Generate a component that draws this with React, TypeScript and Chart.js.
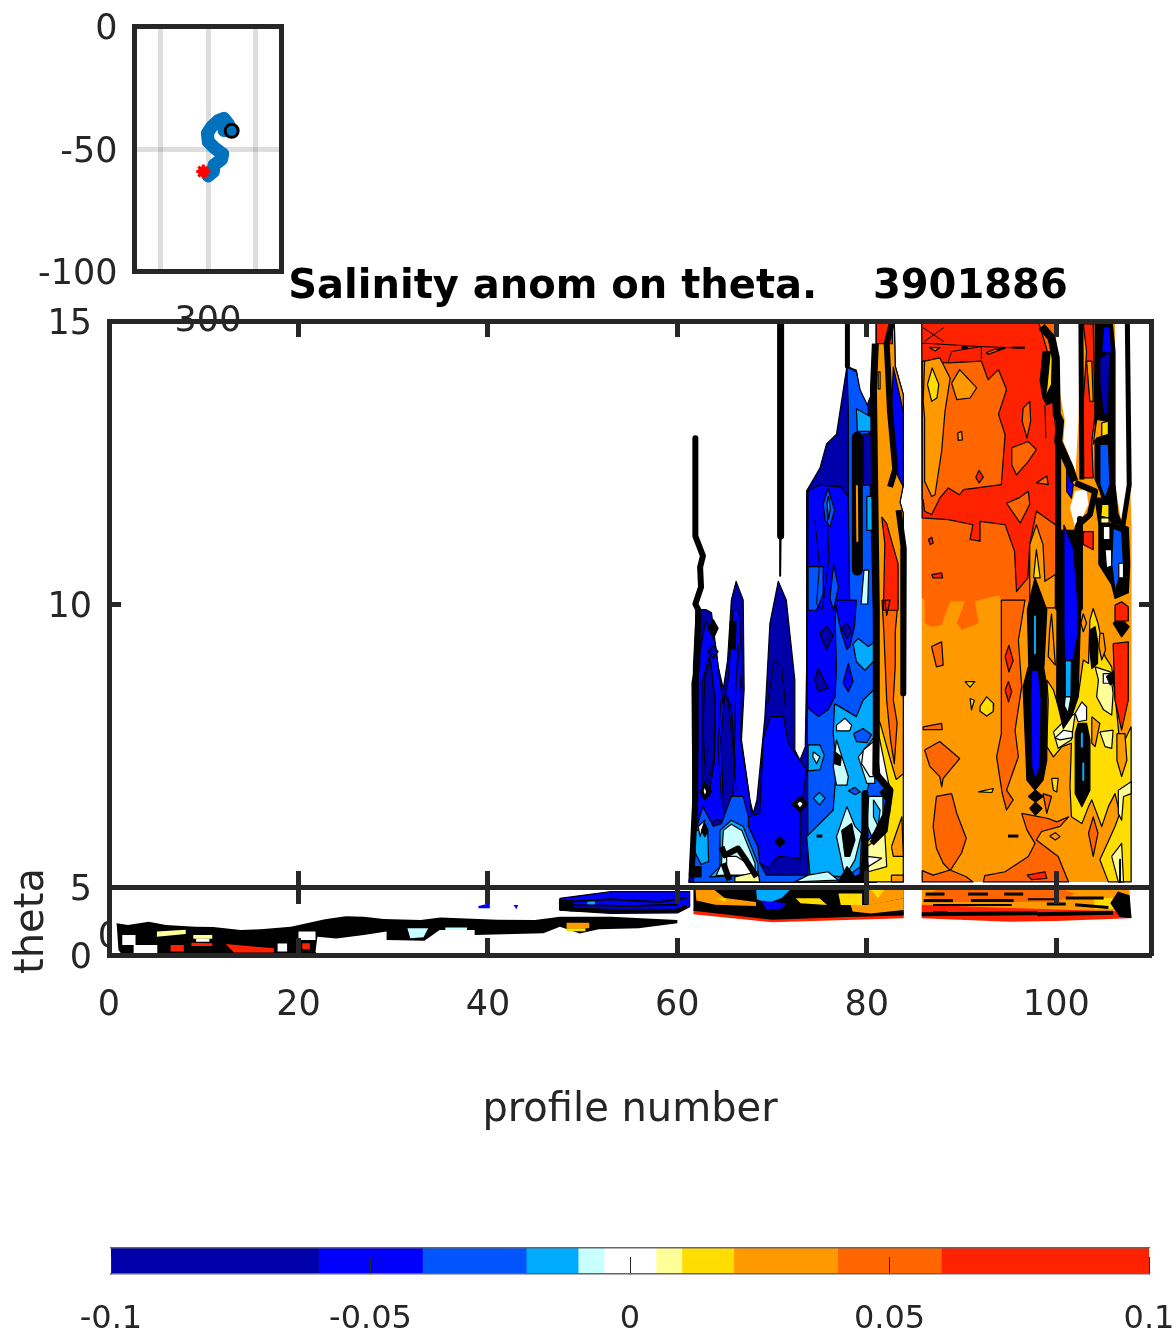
import React, { useEffect, useRef } from "react";
import { Chart, registerables } from "chart.js";
Chart.register(...registerables);

// ---- tick values
const profileTicks = [0, 20, 40, 60, 80, 100];
const thetaUpperTicks = [10, 15];
const thetaLowerTicks = [0, 5];
const mapLonGrid = [250, 300, 350];
const mapLatTicks = [-100, -50, 0];
const cbarTicks = [-0.1, -0.05, 0, 0.05, 0.1];
const cbarLevels = [-0.1, -0.06, -0.04, -0.02, -0.01, -0.005, 0.005, 0.01, 0.02, 0.04, 0.06, 0.1];

// ---- contour level colours
const dk = "#0000AA", bl = "#0000FF", md = "#0055FF", cy = "#00AAFF", pc = "#C8FFFF", wh = "#FFFFFF",
  py = "#FFFF99", ye = "#FFDD00", or = "#FF9900", dr = "#FF6600", rd = "#FF2200", bk = "#000000";
const cbarColors = [dk, bl, md, cy, pc, wh, py, ye, or, dr, rd];

// ---- float track (lon, lat)
const trackLon = [300.3, 305.6, 306.3, 314.2, 315.3, 307.3, 300.3, 299.3, 303.8, 310.8, 316.7, 321.2, 316.7, 324.7];
const trackLat = [-61, -59.2, -56.5, -54.2, -52, -49.7, -47, -43.6, -40.9, -38.4, -37.5, -39.8, -42.5, -42.6];
const firstFix = [295.1, -59.2];
const lastFix = [324.7, -42.6];

// ---- contour regions, flat (profile, theta) pairs
const leftHull = [61.2,5.08, 61.6,5.9, 61.7,8.9, 62,9.9, 63,9.9, 63.6,9.85, 64.3,8.9, 64.85,8.5, 65.3,9, 65.7,10.07, 66.2,10.4, 66.95,10.07, 67.05,8.5, 66.77,7.6, 67.66,6.54, 68,6.3, 68.4,6.54, 69.24,8, 69.77,9.66, 70.65,10.4, 71.5,10.07, 72.4,8.66, 72.4,7.42, 72.94,7.24, 73.5,7.48, 73.65,8.9, 73.65,12, 75.05,12.4, 75.75,12.83, 76.8,13, 77.9,14.2, 78.9,14.13, 79.3,13.7, 80,13.5, 80.7,13.8, 81,14.6, 81,5.08];
const midBlueEast = [77.9,14.19, 78.9,14.1, 79.3,13.78, 80.15,13.48, 80.7,9.89, 80.86,7.71, 81.4,6.95, 82.45,6.71, 81.75,6.12, 79.3,5.36, 79.3,5.08, 73.8,5.08, 73.7,8.9, 73.8,12, 78.05,11.9, 78.05,13.4];
const blueEast = [73.8,12, 75,12.1, 77.2,12.07, 78.05,11.9, 78.2,9.9, 76.8,10.07, 76.65,9.72, 76.8,8.89, 76.65,8.36, 75.9,8.13, 74.9,8.01, 74,8.13, 73.7,8.2];
const blueNorth = [76.6,10.07, 78.9,10.07, 78.7,9.6, 78.2,9.25, 77.9,9.2, 77.3,9.5];
const blueWest = [62,5.8, 62.2,7.5, 62.2,9, 63,9.7, 64,9.3, 64.85,8.2, 65.4,8.7, 65.9,9.9, 66.5,9.9, 66.8,9, 66.7,7.6, 67.6,6.6, 67.9,6.2, 67,6, 64.2,6.2, 62.8,6];
const darkWest1 = [62.5,6.8, 62.6,8.6, 63.4,9.1, 64,8.2, 63.9,7.2, 63.3,6.6];
const darkWest2 = [64.9,6.3, 64.6,7.6, 65,8.4, 65.7,8.2, 66.1,7.2, 65.7,6.3];
const bodyBlue = [69.05,7.6, 69.8,8.01, 71.2,8.01, 71.7,7.54, 73.65,7.07, 72.95,6.24, 72.95,5.5, 70.65,5.54, 69.6,5.33, 68.7,5.42, 68.5,5.71, 67.5,6.07, 67.4,6.24, 68.7,6.3, 68.9,7];
const midBlueWest = [62.7,6.42, 63.8,6.07, 64.66,6.12, 65.7,6.6, 66.95,6.6, 67.5,6.24, 67.5,6.07, 68.5,5.71, 68.7,5.42, 69.4,5.21, 73.65,5.21, 73.8,5.08, 61.7,5.08, 61.85,5.6, 61.85,5.95];
const cyanMain = [76.6,8.24, 78.9,8.01, 79.6,8.3, 80.7,8.48, 81,7.71, 80.7,7.13, 79.6,6.42, 79.3,5.36, 77.9,5.18, 74,5.21, 73.65,5.89, 76.45,6.36, 76.8,7.13, 76.45,7.71];
const cyanLobe = [78.55,9.3, 79.1,9.39, 80.15,9.25, 80.85,9.33, 80.85,9.01, 79.8,8.83, 78.9,8.98];
const dark1 = [75.05,9.48, 75.75,9.6, 76.45,9.45, 75.75,9.19];
const dark2 = [77.35,9.57, 77.9,9.66, 78.4,9.51, 77.9,9.39];
const dark3 = [74.5,8.66, 74.85,8.86, 75.9,8.51, 74.85,8.45];
const blueDrop = [77.5,8.6, 78.05,8.95, 78.55,8.63, 78.05,8.45];
const midOnCyan = [78.6,7.71, 79.6,7.8, 80.5,7.69, 80,7.55, 78.9,7.57];
const cyanSquare = [73.8,7.51, 75.05,7.51, 75.5,7.33, 75.05,7.07, 73.8,7.05];
const paleDot = [74.35,7.39, 75.05,7.3, 74.7,7.18, 74.3,7.3];
const whiteBox = [76.8,7.86, 77.7,7.98, 78.4,7.86, 78.2,7.76, 76.8,7.76];
const paleColumn = [76.8,7.6, 78.05,6.95, 77.9,6.8, 76.8,6.8, 76.45,7.13];
const blackCore = [76.55,7.4, 77.3,7.3, 77.2,7.15, 76.6,7.18];
const cyanDiamond = [74.35,6.57, 75,6.67, 75.6,6.57, 75,6.45];
const midDiamond = [78.05,6.7, 78.75,6.76, 79.3,6.68, 78.75,6.63];
const whiteLarge = [79.1,7.3, 80.7,7.63, 80.85,6.83, 80,6.83];
const whiteInner = [79.63,7.42, 80.7,7.57, 80.7,6.95, 80.3,6.95, 79.45,7.18];
const cyanSW = [61.85,6, 63.2,6, 63.3,5.45, 62.5,5.4, 61.9,5.6];
const cyanSouth = [64.5,6, 65.7,6.18, 66.95,6.07, 68.5,5.42, 68.5,5.21, 63.4,5.18, 64.5,5.36];
const paleSouth = [64.85,6, 65.7,6.11, 66.8,6, 68.2,5.42, 68.2,5.24, 64.1,5.2, 64.66,5.42];
const whiteSouth = [65.2,5.54, 66.25,5.54, 67.65,5.39, 68,5.21, 65.2,5.21];
const yellowSouth = [66.07,5.18, 68.5,5.27, 68.7,5.09, 66.07,5.09];
const blackRing1 = [72.06,6.47, 72.94,6.59, 73.75,6.47, 72.94,6.33];
const whiteRing1 = [72.6,6.47, 72.94,6.53, 73.3,6.47, 72.94,6.39];
const blackDot1 = [70.3,5.8, 70.8,5.89, 71.35,5.8, 70.8,5.71];
const blackDot2 = [62.4,6.68, 62.9,6.86, 63.6,6.68, 62.9,6.54];
const whiteDot2 = [62.7,6.7, 62.9,6.78, 63.1,6.68, 62.9,6.6];
const blackDot3 = [63.25,9.57, 63.8,9.72, 64.3,9.57, 63.8,9.39];
const darkDot4 = [63.25,9.16, 63.8,9.27, 64.3,9.16, 63.8,9.04];
const blackFoot = [61.3,5.36, 62.5,5.36, 62.5,5.18, 61.3,5.18];
const whiteNick = [62.2,6.07, 62.9,6.18, 62.4,5.89];
const blackNick = [62.55,6, 62.9,6.12, 63.25,6, 62.9,5.89];
const paleDiamond = [77.9,6.42, 78.75,6.07, 79.45,5.95, 78.75,5.48, 77.7,5.18, 76.8,5.89];
const blackDiamond = [77.35,6, 78.4,6.12, 78.75,5.83, 78.2,5.54, 77.7,5.54];
const blackFeet = [77,5.09, 77.9,5.36, 78.75,5.18, 79.45,5.24, 79.63,5.09];
const paleFoot = [72.4,5.09, 73.8,5.21, 75.9,5.27, 77,5.12];
const paleLoop = [80.2,6.6, 81.7,6.6, 81.7,6.15, 80.5,5.9, 80,6.1];
const cyanLoop = [80.7,6.54, 81.4,6.36, 81.2,6.07, 80.7,6.24];
const midDrop = [75.4,11.77, 75.9,12.04, 76.6,11.66, 76.1,11.36, 75.6,11.48];
const cyanDrop = [75.8,11.8, 75.95,11.9, 76.15,11.68, 75.95,11.5];
const midSlab1 = [73.8,10.66, 75.4,10.66, 75.4,10.18, 74.7,9.89, 73.8,9.89];
const midSlab2 = [76.5,10.7, 77,10.3, 76.5,9.89, 76.1,10.1];
const cyanX = [78.9,13.45, 80.5,13.3, 80.5,13.05, 79,13.05];
const darkX = [79.6,13, 80.7,13, 80.7,12.1, 79.6,12.1];
const paleTall = [79.7,10.6, 80.2,10.6, 80.1,10, 79.4,10];
const cyanTall = [80,11.9, 80.7,11.9, 80.7,11.3, 80,11.3];

const columnBase = [81,15, 82.9,15, 83,14.2, 83.85,13.7, 83.85,12.1, 83.5,11.8, 83.85,11.6, 83.85,5.09, 80,5.09, 80,5.8, 81.8,6.1, 82.45,6.71, 81,7.9];
const columnOrange = [81,15, 82.9,15, 83,14.2, 83.85,13.7, 83.85,12.1, 83.5,11.8, 83.85,11.6, 83.85,7, 83.1,6.9, 82.45,7.27, 81.4,7.9, 81,8];
const columnDark = [81.6,10.07, 83.3,10.07, 83,9.5, 83,8.9, 82.8,8.3, 83.2,7.9, 82.9,7.18, 82.5,7.6, 82.1,8.3, 81.8,9.5];
const columnRedTop = [81,15, 82.7,15, 82.7,14.6, 81,14.6];
const columnRedMid = [81.57,11.54, 82.1,11.42, 83.3,10.71, 83.3,9.89, 81.75,9.89, 81.9,11.07];
const columnRedTip = [81.9,10.07, 82.45,10.07, 82.1,9.8];
const columnBlue = [82.8,14.19, 83.5,13.66, 83.85,13.4, 83.85,12.07, 83.3,12.25, 82.8,12.83, 82.6,13.4];
const columnYellow = [81.2,14.1, 81.4,14.1, 81.4,13.8, 81.2,13.8];
const paleFloor = [80,5.71, 81.9,5.95, 82.1,5.36, 80.15,5.27];
const whiteFloor = [80,5.54, 81.57,5.51, 80.15,5.36];
const orangeFloor1 = [82.6,5.71, 83.7,6.24, 83.85,5.54, 82.8,5.54];
const orangeFloor2 = [82.6,5.21, 83.85,5.21, 83.85,5.09, 82.6,5.09];

const rightHull = [85.8,5.09, 85.8,15, 99.9,15, 100.2,13.9, 100.9,13.25, 100.75,12.87, 101.45,12.58, 102,12.2, 102.35,13.3, 102.5,14.5, 102.5,15, 106.2,15, 106.2,12.1, 106.9,11.43, 107.5,12.1, 107.4,15, 107.75,15, 107.8,12.1, 107.95,11.4, 107.95,5.09];
const darkUpper = [85.8,15, 99.9,15, 99.9,10, 97.2,10, 96.7,10.07, 94.2,10, 94,10.16, 91.4,10.05, 91.8,9.66, 90,9.54, 89.5,9.66, 90.35,10.05, 88.8,10.05, 87.9,9.63, 86.85,9.6, 86.1,9.66, 86.1,10.07, 85.8,10.1];
const redUpper = [85.8,15, 98.1,15, 99,14.5, 99.4,14, 100,13, 100.3,11.4, 99.9,11.4, 97.9,11.64, 97.2,11.05, 97,10.46, 95.8,10.22, 95.6,10.93, 94.6,11.4, 91.95,11.46, 91.95,11.11, 90.9,11.14, 91.2,11.4, 88.6,11.49, 85.85,11.52];
const darkBlock = [85.85,14.29, 88.6,14.26, 92.1,14.29, 92.8,13.96, 93.9,14.14, 94.75,13.79, 93.9,13.35, 94.6,12.99, 94.2,12.11, 90.2,12.02, 89.8,11.93, 88.6,12.05, 87.7,11.87, 86.85,11.58, 86.1,11.64, 85.95,11.84, 85.85,11.84];
const darkPatch1 = [95.3,12.76, 97.05,12.87, 97.9,12.73, 97.05,12.52, 95.8,12.28, 95.3,12.46];
const darkPatch2 = [96.5,13.46, 97.2,13.58, 97.3,13.23, 96.9,12.93, 96.4,13.23];
const darkPatch3 = [94.75,11.78, 96,11.87, 97.05,11.99, 97.2,11.76, 96.2,11.43];
const darkTri = [97.9,12.14, 99,12.26, 99.15,12.11];
const darkTop = [92.6,14.44, 93.5,14.5, 94.6,14.52, 92.8,14.41];
const orangeTop = [86.6,14.53, 87.7,14.53, 87.2,14.47];
const lobe1 = [85.95,13.58, 86.1,14.29, 87.7,14.35, 88.8,13.99, 88.25,13.4, 87.9,12.7, 87.2,11.93, 86.85,11.9, 86.1,12.17, 86.1,13.29];
const lobe1Yellow = [86.4,13.88, 86.9,14.17, 87.6,13.88, 87.4,13.64, 86.85,13.58];
const lobe2 = [88.95,13.9, 89.8,14.14, 91.6,13.82, 90.9,13.64, 89.5,13.61];
const lobe3 = [89.6,13.02, 90,13.05, 90.1,12.9, 89.65,12.89];
const redDia1 = [91.5,12.24, 91.85,12.36, 92.3,12.24, 91.85,12.14];
const redDia2 = [86.5,11.14, 86.85,11.18, 87,11.08, 86.7,11.05];
const redDia3 = [86.85,10.52, 87.9,10.55, 88,10.46, 87,10.46];
const lobe4 = [97.2,9.93, 97.2,11.05, 97.9,11.4, 98.6,11.05, 98.8,10.4, 99.9,10.52, 99.9,9.93];
const lobe4Yellow = [97.6,10.46, 97.9,10.96, 98.3,10.46];
const patchA = [86.83,9.25, 87.9,9.33, 88.06,8.92, 87.35,8.89];
const patchB = [85.95,7.83, 87.9,7.89, 87.96,7.78, 85.95,7.78];
const patchC = [86.1,7.42, 87.7,7.57, 89.8,7.27, 88.06,6.92, 87.9,6.77, 87.7,6.95, 86.65,7.13];
const patchBig = [87.35,6.6, 88.95,6.65, 89.5,6.3, 90.5,5.86, 90,5.6, 88.8,5.29, 88.06,5.42, 87.35,5.68, 87,6.07];
const patchFloor = [85.85,5.29, 87,5.21, 88.8,5.3, 90.5,5.18, 91.2,5.09, 85.85,5.09];
const darkColumn = [94.2,10.07, 96.7,10.07, 96,9.36, 96.35,8.54, 95.65,7.77, 96,7.3, 94.75,6.71, 95.45,6.54, 94.75,6.36, 94.3,6.65, 93.7,7.3, 94.2,7.71, 94.2,9.19];
const darkLower = [96.35,6.3, 99.15,6.21, 100.05,6.15, 101.3,6.24, 100.4,6.07, 98.45,5.98, 97.9,5.83, 100.2,5.54, 101.3,5.09, 92.3,5.09, 92.45,5.2, 94.6,5.27, 97.05,5.54, 97.75,5.77, 96.9,6.01];
const orangeDot = [99.3,5.9, 99.9,5.96, 100.4,5.89, 99.9,5.83];
const redFloor = [96.9,5.21, 98.8,5.27, 99,5.15, 97.4,5.13];
const yellowA = [90.35,8.63, 91.4,8.63, 90.9,8.53];
const yellowB = [91.95,8.19, 92.65,8.36, 93.4,8.24, 93.35,8.1, 92.65,8.02, 92,8.1];
const yellowC = [90.9,8.33, 91.35,8.3, 91.05,8.13];
const yellowD = [91.75,6.68, 93.35,6.74, 93.2,6.67];
const yellowE = [99.5,6.92, 100.2,6.92, 100.05,6.68, 99.7,6.71];
const darkShard = [98.6,6.65, 99.5,6.6, 99,6.3];
const redCol1 = [94.6,9.07, 95,9.27, 95.45,9, 95,8.8];
const redCol2 = [94.6,8.48, 94.95,8.63, 95.3,8.45, 94.95,8.27];
const yellowEast = [99,8.66, 99.15,8.3, 99,7.48, 99.7,7.3, 100.6,7.48, 101.6,7.54, 101.45,6.77, 101.6,6.24, 102.7,6.12, 103.4,6.42, 103.75,6.54, 104.8,6.07, 105.5,6.42, 106.2,6.65, 106.7,6.3, 106.2,6.07, 105.15,5.68, 104.6,5.48, 105.5,5.09, 107.9,5.09, 107.9,7.83, 107.25,7.6, 106.6,7.71, 106.4,8.07, 105.85,8.89, 105.15,9.07, 104.4,9.66, 103.9,9.92, 103.55,9.72, 103.4,8.95, 102.85,9.01, 102.3,8.36, 101.6,8.01, 100.9,7.83, 100.2,8.2, 99.7,8.48];
const orangeE1 = [106.4,7.71, 107.25,7.71, 107.45,7.24, 106.9,6.95, 106.4,7.24];
const orangeE2 = [103.75,8.01, 104.6,7.89, 104.1,7.48, 103.75,7.54];
const orangeE3 = [103.4,5.95, 103.9,6.24, 104.4,5.95, 103.9,5.54];
const orangeE4 = [104.6,9.48, 104.96,9.48, 105.2,9.19, 104.8,9.01, 104.5,9.25];
const orangeE5 = [99.5,9.83, 99.9,8.92, 99.15,9.07, 99.3,9.54];
const orangeE6 = [102.85,9.83, 103.2,9.66, 102.85,9.51, 102.6,9.66];
const paleE1 = [104.1,8.89, 105.7,8.8, 106,8.42, 105.85,8.04, 105,8.13, 104.26,8.36, 104.45,8.66];
const paleE2 = [104.6,7.74, 106,7.77, 105.85,7.45, 105.15,7.48];
const paleE3 = [106.55,6.71, 107.9,6.86, 107.9,6.65, 107.1,6.6, 106.9,6.18, 106.55,6.3];
const paleE4 = [99.7,7.74, 100.75,7.92, 102,8.07, 101.6,7.6, 100.2,7.45];
const paleE5 = [105.85,5.54, 106.9,5.77, 107.1,5.09, 106.55,5.09];
const whiteE1 = [99.85,7.63, 100.75,7.77, 101.7,7.74, 101.7,7.64, 100.4,7.6];
const whiteE2 = [102,8.07, 102.7,8.27, 103.2,8.18, 103.2,7.95, 102.3,7.92];
const whiteE3 = [104.96,8.77, 105.7,8.77, 105.85,8.6, 104.96,8.6];
const blackA = [97.75,10.46, 99,9.9, 98.7,8.9, 97.1,8.9, 96.95,9.9];
const blackB = [97.05,8.89, 98.6,8.95, 99,8.54, 99,7.24, 98.6,6.89, 97.75,6.71, 96.9,6.89, 96.5,8.54];
const blueB = [97.4,8.83, 98.1,8.83, 98.4,8.3, 98.3,7.13, 97.75,6.89, 97.4,7.13, 97.3,8.3];
const blackB1 = [97.05,6.6, 97.8,6.71, 98.6,6.6, 97.8,6.5];
const blackB2 = [97.2,6.39, 97.8,6.5, 98.5,6.39, 97.8,6.27];
const blackC = [100.1,11.3, 100.05,8.3, 100.75,7.8, 101.6,8.01, 102.3,8.36, 102.6,10, 102.4,11.3];
const blueC = [100.8,11.4, 101.8,11, 102.3,10, 102.3,9.48, 101.7,8.95, 100.95,8.9, 100.8,9.5];
const cyanC = [100.95,9, 101.6,9, 101.55,8.36, 100.95,8.36];
const paleC = [100.95,8.36, 101.55,8.36, 101.25,8.07, 100.85,8.2];
const blackD = [102,7.71, 102.3,7.89, 103.2,7.89, 103.55,7.6, 103.55,6.71, 102.7,6.42, 102,6.65];
const blackE = [103.55,9.54, 104.1,9.6, 104.4,9.3, 104.35,8.95, 103.75,8.86, 103.55,9.18];
const blackF = [105.3,8.72, 106.2,8.83, 106.4,8.66, 105.7,8.57];
const redEdge = [106,9.3, 107.6,9.33, 107.6,8.3, 106.9,7.77, 106.2,8.3];
const blackEdge = [106,9.66, 106.8,9.75, 107.7,9.6, 106.9,9.42];
const redEdgeTop = [106.2,9.98, 106.9,10.04, 107.6,9.95, 107.6,9.7, 106.2,9.7];
const redCol = [102.85,14.95, 103.9,14.95, 104.1,13.35, 103.75,12.87, 103.9,12.23, 102.85,12.23, 102.85,13.58, 103.2,14.46];
const orangeCol = [103.2,14.29, 103.75,14.29, 103.9,13.58, 103.55,13.58];
const blackCol = [104.1,15, 105.9,15, 106.2,14.46, 106.2,12.11, 106.5,11.6, 106.9,11.43, 105.9,11.4, 105.15,11.7, 104.6,12, 104.1,12.2];
const orangeNotch = [103.9,12.82, 104.26,13.26, 105.5,13.23, 105.5,13, 104.26,12.93];
const yellowNotch = [104.8,13.2, 105.5,13.23, 105.5,13, 104.8,12.96];
const blueTop = [105,14.9, 105.67,14.9, 105.85,14.4, 104.8,14.46];
const darkMid = [104.6,14.35, 105.67,14.45, 105.5,13.35, 105,13.35, 104.6,13.88];
const blueMid = [104.6,12.82, 105.5,12.82, 105.67,12.11, 105.15,11.87, 104.6,12.11];
const blueSliver = [101.1,12.4, 101.8,12.11, 101.6,11.87, 101.1,11.99];
const bubble = [102,12, 103.2,12.02, 103.4,11.76, 102.7,11.52, 102,11.34, 101.45,11.7];
const blackLoop = [104.1,11.87, 104.5,11.4, 104.5,10.7, 105.85,10.34, 106.2,10.1, 107.6,10.2, 107.75,10.7, 107.6,11.35, 106.9,11.4, 106,11.4, 105.15,11.45, 104.8,11.87];
const yellowLoop = [104.8,11.76, 105.57,11.76, 105.57,11.52, 104.7,11.55];
const paleLoopE = [104.7,11.52, 105.57,11.52, 105.57,11.43, 104.7,11.43];
const whiteLoop1 = [104.96,11.37, 105.67,11.37, 105.67,11.14, 104.96,11.14];
const whiteLoop2 = [105.15,10.96, 105.85,10.96, 105.85,10.67, 105.3,10.64];
const whiteLoop3 = [106.6,10.72, 107.1,10.72, 107.1,10.46, 106.6,10.46];
const midLoop = [106,11.34, 106.9,11.28, 107.1,10.7, 106.2,10.22, 105.85,10.7];
const redSmall = [102.85,11.28, 103.9,11.28, 103.9,10.96, 102.85,11.05];
const blackStreak = [98.6,14.46, 99.7,14.46, 99.85,13.58, 99,13.52, 98.6,13.64, 98.3,13.94];
const streakYellow = [99.35,14.43, 99.6,14.43, 99.5,13.88, 98.8,13.64, 99,13.82];

// ---- heavy contour bundles
const lineA = [61.9,12.93, 61.9,11.2, 62.7,10.85, 62.4,10.65, 62.5,10.3, 61.9,10, 62.2,9.9, 62.1,8.9, 61.8,8.6, 61.9,6.6, 61.5,5.2];
const lineB = [70.9,14.95, 70.9,11.2];
const lineBThin = [70.9,11.2, 70.85,10.5];
const lineC = [77.95,14.95, 77.95,14.2];
const lineD = [80.9,14.6, 80.7,13.8, 81,9.9, 81,7.71, 80.95,7, 82.45,6.71, 82.1,6.3, 80.7,5.83];
const lineE = [79,12.95, 79,10.6];
const lineEInner = [78.95,12.1, 79,11.1];
const lineF = [82.7,15, 82.1,14.6, 82.45,13.4, 83,12.38, 82.45,12.07];
const lineG = [83.35,11.66, 83.9,10.98, 83.85,8.42];
const lineH = [79.8,6.65, 79.8,5.18];
const lineI = [81.55,6.71, 82.3,6.54, 81.9,6, 80.5,5.77];
const lineJ = [64.66,5.71, 65,5.56, 66.4,5.68, 67.1,5.51, 68.36,5.18];
const lineK = [64.85,5.42, 65.5,5.12];
const lineL = [65.9,9.7, 65.8,9.2];
const lineM = [100.2,12.9, 100.2,9.93];
const lineN = [102.6,15, 102.7,12.2];
const lineO = [107.5,15, 107.7,12.1, 107,11.35];
const lineP = [102,12.14, 104.1,11.99, 103.55,11.58, 102.35,11.4, 102,11.17];
const lineQ = [102.5,11.5, 102.5,9.93];
const lineR = [98.45,14.9, 99.5,14.7, 99.95,14.35, 100.05,13.35, 100.4,13.23, 100.2,12.87, 101.45,12.4, 101.9,12.17];
const thinW1 = [63,6.9, 62.7,7.8, 62.9,8.7, 63.5,9, 64,8.3, 63.9,7.3, 63.3,6.85];
const thinW2 = [64.7,6.4, 64.3,7.5, 64.6,8.3, 65.3,8.4, 65.8,7.6, 66.2,6.7];
const thinW3 = [66,7, 66.1,8.2, 66.4,9.3, 66.7,8.5];
const thinW4 = [69.5,8.2, 70.2,9, 71,8.9, 71.4,8.2];
const thinW5 = [74.5,11.5, 75,10.7, 74.7,10, 75.3,9.9, 76,10.8, 75.8,11.7];
const contourTop = [85.85,14.61, 91.8,14.55, 96.7,14.52];
const contourX1 = [85.95,14.88, 88.1,14.64];
const contourX2 = [88.1,14.88, 86.1,14.64];
const contourCap = [88.6,14.28, 88.95,14.46, 92.1,14.55, 92.1,14.34];
const dashA = [90,14.53, 90.7,14.53];
const dashB = [95.3,14.53, 96.7,14.53];
const dashC = [94.9,5.9, 96,5.9];
const dashD = [74.7,5.9, 75.3,5.9];
const dashE = [98.8,13.52, 98.9,12.93];
const cyanLine1 = [97.75,9.78, 97.75,9.13];
const cyanLine2 = [102.7,7.71, 102.7,7.48];
const cyanLine3 = [102.85,7.18, 102.85,6.89];
const blackFine = [106.73,5.48, 106.73,5.09];

// ---- lower panel regions
const bandWest = [0.8,2.33, 2,2.2, 4.2,2.45, 6,2.2, 9.1,2.08, 11,2.05, 13.9,1.84, 16,1.9, 19.2,2.08, 21,2.35, 22.8,2.62, 25,2.85, 26.9,2.82, 29,2.65, 32.9,2.57, 35,2.75, 37,2.7, 41,2.6, 45,2.57, 47.6,2.82, 53,2.82, 60,2.57, 60,2.33, 55.9,1.96, 51.7,1.89, 49.7,1.59, 47.6,2.08, 45.85,1.6, 38.6,1.47, 38.6,1.84, 34.9,1.84, 33.3,1.05, 29.3,1.1, 29.3,1.72, 26.9,1.47, 24,1.22, 22,1.35, 21.8,0.25, 22,0, 1.4,0, 1,0.37, 0.82,2.2];
const whiteA = [2.6,0.12, 5.1,0.12, 5.1,0.74, 2.6,0.74];
const whiteB = [1.4,0.74, 2.8,0.74, 2.8,1.47, 1.4,1.47];
const yellowS1 = [5.06,1.72, 8.1,1.85, 8.1,1.55, 5.06,1.35];
const paleS2 = [8.9,1.47, 10.9,1.47, 10.9,1.2, 8.9,1.2];
const whiteS2 = [9.2,1.2, 10.6,1.2, 10.6,0.98, 9.2,0.98];
const redS1 = [12.3,0.8, 14,0.7, 17.4,0.5, 17.4,0.18, 13.2,0.18];
const redS2 = [8.7,0.9, 10.9,0.86, 10.9,0.66, 8.7,0.66];
const redS3 = [6.5,0.74, 7.9,0.74, 7.9,0.25, 6.5,0.25];
const whiteS3 = [17.8,0.85, 18.8,0.85, 18.8,0.25, 17.8,0.25];
const whiteS4 = [20,1.72, 21.8,1.72, 21.8,1.1, 20,1.1];
const redS4 = [20.4,0.86, 21.2,0.86, 21.2,0.42, 20.4,0.42];
const paleS5 = [31.5,1.96, 33.7,1.96, 33.2,1.3, 31.8,1.23];
const paleS6 = [35.5,2.03, 37.8,2.03, 37.8,1.84, 35.5,1.84];
const brownS = [48.3,2.38, 50.7,2.38, 50.7,1.96, 48.3,1.96];
const yellowS3 = [48.3,1.96, 50.3,1.96, 50.3,1.75, 48.3,1.75];
const blueDotA = [39,3.6, 40.2,3.8, 40.2,3.43, 39,3.43];
const blueDotB = [42.7,3.68, 43.2,3.68, 43,3.36];
const blueBand = [47.6,4.17, 53,4.66, 61.3,4.66, 61.3,3.55, 60,3.1, 53,3.06, 47.6,3.3];
const cyanBand = [50.5,4.05, 51.3,4.05, 51.3,3.7, 50.5,3.7];
const blackBandEnd = [47.5,3.3, 49,3.2, 49,4, 47.5,4.1];
const bandInk1 = [47.6,3.4, 53,3.25, 60,3.25, 61,3.6];
const bandInk2 = [48,3.9, 53,4.1, 58,3.9, 61,4.2];
const bandInk3 = [49,3.65, 55,3.6, 60,3.7];
const redSouth = [61.7,3, 70,2.4, 83.9,2.7, 83.9,3.2, 61.7,3.4];
const blackSouth = [61.7,5, 83.9,5, 83.9,2.9, 78,2.8, 70,2.6, 61.7,3.25];
const orangeS1 = [61.9,5, 63.5,5, 65,4.2, 68.3,3.9, 68.3,3.6, 64,3.7, 62,4];
const yellowS4 = [64.2,4.17, 65.2,4.17, 65,3.9];
const cyanS1 = [68.3,5, 72.2,5, 71,4.2, 69.5,3.8, 68.4,4.1];
const blueS1 = [68.9,4, 71.5,3.8, 71,3.4, 69.4,3.3];
const yellowS5 = [72.5,4.17, 75,4.17, 75.8,3.68, 73,3.8];
const yellowS6 = [77,4.53, 79.5,4.53, 79.5,3.68, 77.25,3.68];
const orangeS2 = [78.3,3.68, 80,3.68, 83.9,4.17, 83.9,3.3, 80.4,3.06, 78.5,3.2];
const orangeS3 = [80.2,5, 83.9,5, 83.9,4.17, 80.2,3.68];
const yellowS7 = [80.2,5, 82,5, 81.2,4.17];
const rightBase = [85.8,5, 107.75,5, 107.75,2.75, 95,2.65, 85.8,2.75];
const rightDark = [88,5, 100,5, 102,4.5, 100,3.9, 88,3.9, 86,4.3];
const rightRed = [85.8,3.7, 95,3.45, 107.5,3.2, 107.7,2.7, 100,2.5, 95,2.45, 85.8,2.7];
const rightBlack = [106.5,4.66, 107.75,4.4, 107.95,2.7, 106.7,2.8, 105.7,3.8];
const rightYellow = [104,4.2, 106,4.2, 106,3.4, 104,3.4];
const inkS1 = [86.2,4.48, 88.2,4.48];
const inkS2 = [90.7,4.48, 92.8,4.48];
const inkS3 = [94.5,4.48, 96.5,4.48];
const inkS4 = [86,4, 89.1,4];
const inkS5 = [91,4, 95.5,4];
const inkS6 = [87,3.68, 95.3,3.68];
const inkS7 = [85.8,3, 98,3.07];
const inkS8 = [99,3.75, 101,3.75];
const inkS9 = [98,3, 106,3.1];
const inkS10 = [87,3.1, 88.5,3.1];
const inkS11 = [97,4.1, 100,4.1];
const inkS12 = [101,4.2, 105,4.2];
const inkS13 = [102,3.7, 105.5,3.5];

type Mark = { c: string; a: number[]; w?: number; fill: boolean; edge?: number };
const F = (c: string, a: number[], edge = 1.2): Mark => ({ c, a, fill: true, edge });
const L = (w: number, a: number[], c = bk): Mark => ({ c, a, w, fill: false });

const upperMarks: Mark[] = [
  F(dk, leftHull), F(md, midBlueEast), F(bl, blueEast), F(bl, blueNorth), F(bl, blueWest), F(dk, darkWest1), F(dk, darkWest2),
  F(bl, bodyBlue), F(md, midBlueWest), F(cy, cyanMain), F(cy, cyanLobe), F(dk, dark1), F(dk, dark2), F(dk, dark3), F(bl, blueDrop),
  F(md, midSlab1), F(md, midSlab2), F(md, midDrop), F(cy, cyanDrop), F(cy, cyanX), F(dk, darkX), F(pc, paleTall), F(cy, cyanTall),
  F(md, midOnCyan), F(cy, cyanSquare), F(pc, paleDot), F(wh, whiteBox), F(pc, paleColumn), F(bk, blackCore), F(cy, cyanDiamond), F(md, midDiamond),
  F(pc, whiteLarge), F(wh, whiteInner), F(cy, cyanSW), F(cy, cyanSouth), F(pc, paleSouth), F(wh, whiteSouth), F(py, yellowSouth),
  F(bk, blackRing1), F(wh, whiteRing1), F(bk, blackDot1), F(bk, blackDot2), F(wh, whiteDot2), F(bk, blackDot3), F(dk, darkDot4), F(bk, blackFoot),
  F(wh, whiteNick), F(bk, blackNick), F(pc, paleDiamond), F(bk, blackDiamond), F(pc, paleFoot), F(bk, blackFeet), F(pc, paleLoop), F(cy, cyanLoop),
  L(1, thinW1), L(1, thinW2), L(1, thinW3), L(1, thinW4), L(1, thinW5),
  F(ye, columnBase), F(or, columnOrange), F(dr, columnDark), F(rd, columnRedTop), F(rd, columnRedMid), F(rd, columnRedTip), F(bl, columnBlue), F(ye, columnYellow),
  F(py, paleFloor), F(wh, whiteFloor), F(or, orangeFloor1), F(or, orangeFloor2),
  F(or, rightHull, 0), F(dr, darkUpper, 0), F(rd, redUpper), F(dr, darkBlock), F(dr, darkPatch1), F(dr, darkPatch2), F(dr, darkPatch3), F(dr, darkTri), F(dr, darkTop), F(or, orangeTop),
  F(or, lobe1), F(ye, lobe1Yellow), F(or, lobe2), F(or, lobe3), F(rd, redDia1), F(rd, redDia2), F(rd, redDia3), F(or, lobe4), F(ye, lobe4Yellow),
  F(dr, patchA), F(dr, patchB), F(dr, patchC), F(dr, patchBig), F(dr, patchFloor), F(dr, darkColumn), F(dr, darkLower), F(or, orangeDot), F(rd, redFloor),
  F(ye, yellowA), F(ye, yellowB), F(ye, yellowC), F(ye, yellowD), F(ye, yellowE), F(dr, darkShard), F(rd, redCol1), F(rd, redCol2),
  F(ye, yellowEast), F(or, orangeE1), F(or, orangeE2), F(dr, orangeE3), F(or, orangeE4), F(or, orangeE5), F(or, orangeE6),
  F(py, paleE1), F(py, paleE2), F(py, paleE3), F(py, paleE4), F(py, paleE5), F(wh, whiteE1), F(wh, whiteE2), F(wh, whiteE3),
  F(bk, blackA), F(bk, blackB), F(bl, blueB), F(bk, blackB1), F(bk, blackB2), F(bk, blackC), F(bl, blueC), F(cy, cyanC), F(pc, paleC), F(bk, blackD), F(bk, blackE), F(bk, blackF),
  F(rd, redEdge), F(bk, blackEdge), F(rd, redEdgeTop), F(rd, redCol), F(or, orangeCol), F(bk, blackCol), F(or, orangeNotch), F(ye, yellowNotch), F(bl, blueTop), F(dk, darkMid), F(md, blueMid), F(bl, blueSliver),
  F(bk, blackLoop), F(ye, yellowLoop), F(py, paleLoopE), F(wh, whiteLoop1), F(wh, whiteLoop2), F(md, midLoop), F(wh, whiteLoop3), F(rd, redSmall), F(bk, blackStreak), F(ye, streakYellow), F(wh, bubble, 0),
  L(6, lineA), L(7, lineB), L(2, lineBThin), L(5, lineC), L(7, lineD), L(11, lineE), L(2, lineEInner, or), L(6, lineF), L(6, lineG), L(7, lineH), L(6, lineI), L(6, lineJ), L(6, lineK), L(7, lineL),
  L(6, lineM), L(5, lineN), L(5, lineO), L(6, lineP), L(6, lineQ), L(8, lineR), L(1, contourTop), L(1, contourX1), L(1, contourX2), L(1, contourCap), L(3, dashA), L(2, dashB), L(3, dashC), L(3, dashD), L(1, dashE),
  L(2, cyanLine1, cy), L(2, cyanLine2, cy), L(2, cyanLine3, cy), L(2, blackFine),
];

const lowerMarks: Mark[] = [
  F(bk, bandWest, 0), F(wh, whiteA, 0), F(wh, whiteB, 0), F(py, yellowS1, 0), F(py, paleS2, 0), F(wh, whiteS2, 0), F(rd, redS1, 0), F(rd, redS2, 0), F(rd, redS3, 0), F(wh, whiteS3, 0), F(wh, whiteS4, 0), F(rd, redS4, 0),
  F(pc, paleS5, 0), F(pc, paleS6, 0), F(or, brownS, 0), F(ye, yellowS3, 0), F(bl, blueDotA, 0), F(bl, blueDotB, 0), F(bl, blueBand), F(cy, cyanBand, 0), F(bk, blackBandEnd, 0), L(4, bandInk1), L(2, bandInk2), L(2, bandInk3),
  F(rd, redSouth, 0), F(bk, blackSouth, 0), F(or, orangeS1, 0), F(ye, yellowS4, 0), F(cy, cyanS1, 0), F(bl, blueS1, 0), F(ye, yellowS5, 0), F(ye, yellowS6, 0), F(or, orangeS2, 0), F(or, orangeS3, 0), F(ye, yellowS7, 0),
  F(or, rightBase, 0), F(dr, rightDark, 0), F(rd, rightRed, 0), F(ye, rightYellow, 0), F(bk, rightBlack, 0),
  L(3, inkS1), L(3, inkS2), L(3, inkS3), L(3, inkS4), L(3, inkS5), L(2, inkS6), L(4, inkS7), L(3, inkS8), L(4, inkS9), L(3, inkS10), L(2, inkS11), L(3, inkS12), L(3, inkS13),
];

const ink = "#262626";
const fam = "'DejaVu Sans'";
const pts = (a: number[]) => {
  const out: { x: number; y: number }[] = [];
  for (let i = 0; i < a.length; i += 2) out.push({ x: a[i], y: a[i + 1] });
  return out;
};
const markSets = (marks: Mark[]) =>
  marks
    .map((m) => {
      const p = pts(m.a);
      if (m.fill) p.push(p[0]);
      return {
        data: p,
        showLine: true,
        pointRadius: 0,
        tension: 0,
        fill: m.fill ? ("shape" as const) : false,
        backgroundColor: m.c,
        borderColor: m.fill ? bk : m.c,
        borderWidth: m.fill ? m.edge : m.w,
        borderJoinStyle: "round" as const,
      };
    })
    .reverse();

const setTicks = (v: number[]) => (s: any) => {
  s.ticks = v.map((value) => ({ value }));
};
const edgeAxis = (position: string, ticks: number[], min: number, max: number, size: number, tick: number, pad: number, show: boolean, extra: any = {}) => ({
  type: "linear",
  position,
  min,
  max,
  afterBuildTicks: setTicks(ticks),
  afterFit: (s: any) => {
    if (position === "left" || position === "right") s.width = size;
    else s.height = size;
    s.paddingTop = s.paddingBottom = s.paddingLeft = s.paddingRight = 0;
    // the reference's y tick labels sit a little below their ticks
    if (position === "left" && !s.__nudged) {
      s.__nudged = true;
      const orig = s._computeLabelItems.bind(s);
      s._computeLabelItems = (area: any) => {
        const items = orig(area);
        items.forEach((it: any) => {
          it.options.translation[1] += 3.5;
        });
        return items;
      };
    }
  },
  border: { display: true, color: ink, width: 5, z: 2 },
  grid: { drawOnChartArea: false, drawTicks: true, tickLength: -tick, tickWidth: 5, tickColor: ink, z: 1 },
  ticks: { display: show, autoSkip: false, maxRotation: 0, padding: pad, color: ink, font: { size: 35, family: fam } },
  ...extra,
});
const whitePanel = {
  id: "whitePanel",
  beforeDraw(c: any) {
    const { left, top, width, height } = c.chartArea;
    c.ctx.save();
    c.ctx.fillStyle = "#fff";
    c.ctx.fillRect(left, top, width, height);
    c.ctx.restore();
  },
};
const titleShift = {
  id: "titleShift",
  afterLayout(c: any) {
    c.titleBlock.left += 102.5;
    c.titleBlock.right += 102.5;
  },
};
const base = { responsive: false, animation: false as const, plugins: { legend: { display: false }, tooltip: { enabled: false } } };

export default function App() {
  const a = useRef<HTMLCanvasElement>(null);
  const b = useRef<HTMLCanvasElement>(null);
  const c = useRef<HTMLCanvasElement>(null);
  const d = useRef<HTMLCanvasElement>(null);
  useEffect(() => {
    document.body.style.margin = "0";
    const map = new Chart(a.current!, {
      type: "scatter",
      data: {
        datasets: [
          { data: [{ x: lastFix[0], y: lastFix[1] }], pointRadius: 6.5, pointBackgroundColor: "rgba(0,0,0,0)", pointBorderColor: bk, pointBorderWidth: 3 },
          { data: [{ x: firstFix[0], y: firstFix[1] }], pointRadius: 7, pointStyle: "star", pointBorderColor: "#FF0000", pointBorderWidth: 3, pointBackgroundColor: "#FF0000" },
          { data: [{ x: firstFix[0], y: firstFix[1] }], pointRadius: 5.5, pointBackgroundColor: "#FF0000", pointBorderWidth: 0 },
          { data: trackLon.map((x, i) => ({ x, y: trackLat[i] })), showLine: true, tension: 0, pointRadius: 0, borderColor: "#0072BD", borderWidth: 13, borderJoinStyle: "round", borderCapStyle: "round" },
        ],
      } as any,
      options: {
        ...base,
        layout: { padding: { left: 0, top: 26.5, right: 894.5, bottom: 984.5 } },
        scales: {
          x: {
            ...edgeAxis("bottom", mapLonGrid, 223.4, 376.6, 80, 0, 29, true),
            grid: { drawOnChartArea: true, drawTicks: false, color: "rgba(120,120,120,0.25)", lineWidth: 5 },
            ticks: { autoSkip: false, maxRotation: 0, padding: 29, color: ink, font: { size: 35, family: fam }, callback: (v: any) => (v === 300 ? "300" : "") },
          },
          y: {
            ...edgeAxis("left", mapLatTicks, -100, 0, 134.5, 0, 17, true),
            grid: { drawOnChartArea: true, drawTicks: false, color: (ctx: any) => (ctx.tick && ctx.tick.value === -50 ? "rgba(120,120,120,0.25)" : "rgba(0,0,0,0)"), lineWidth: 5 },
          },
          x2: { ...edgeAxis("top", [], 223.4, 376.6, 0, 0, 0, false), grid: { display: false } },
          y2: { ...edgeAxis("right", [], -100, 0, 0, 0, 0, false), grid: { display: false } },
        },
      } as any,
    });
    const upper = new Chart(b.current!, {
      type: "scatter",
      data: { datasets: markSets(upperMarks) } as any,
      plugins: [titleShift],
      options: {
        ...base,
        plugins: {
          ...base.plugins,
          title: { display: true, text: "Salinity anom on theta.    3901886", color: bk, font: { size: 40, weight: "bold", family: fam, lineHeight: 1.2 }, padding: { top: 9.5, bottom: 9.5 } },
        },
        layout: { padding: { left: 0, top: 254, right: 25, bottom: 349 } },
        scales: {
          x: edgeAxis("bottom", profileTicks, 0, 110, 100, 16, 46, true),
          x2: edgeAxis("top", profileTicks, 0, 110, 0, 16, 0, false),
          y: edgeAxis("left", thetaUpperTicks, 5, 15, 109, 12, 29, true),
          y2: edgeAxis("right", thetaUpperTicks, 5, 15, 0, 12, 0, false),
        },
      } as any,
    });
    const lower = new Chart(c.current!, {
      type: "scatter",
      data: { datasets: markSets(lowerMarks) } as any,
      plugins: [whitePanel],
      options: {
        ...base,
        layout: { padding: { left: 0, top: 887, right: 25, bottom: 196 } },
        scales: {
          x: edgeAxis("bottom", profileTicks, 0, 110, 185, 17, 47, true, {
            title: { display: true, text: "profile number", color: ink, font: { size: 40, family: fam, lineHeight: 1.2 }, padding: { top: 0, bottom: 5 } },
          }),
          x2: edgeAxis("top", profileTicks, 0, 110, 0, 17, 0, false),
          y: edgeAxis("left", thetaLowerTicks, 0, 5, 109, 12, 29, true, {
            title: { display: true, text: "theta", color: ink, font: { size: 40, family: fam, lineHeight: 1.2 }, padding: { top: 9, bottom: 0 } },
          }),
          y2: edgeAxis("right", [], 0, 5, 0, 12, 0, false),
        },
      } as any,
    });
    const cbar = new Chart(d.current!, {
      type: "bar",
      data: {
        labels: ["salinity anomaly"],
        datasets: cbarColors.map((col, i) => ({
          data: [[cbarLevels[i], cbarLevels[i + 1]]],
          backgroundColor: col,
          borderWidth: 0,
          grouped: false,
          barPercentage: 1,
          categoryPercentage: 1,
        })),
      } as any,
      options: {
        ...base,
        indexAxis: "y",
        layout: { padding: { left: 111, top: 1247.5, right: 27, bottom: 0 } },
        scales: {
          x: {
            ...edgeAxis("bottom", cbarTicks, -0.1, 0.1, 62, 17, 43, true),
            border: { display: true, color: "#666", width: 1.5, z: 2 },
            grid: { drawOnChartArea: false, drawTicks: true, tickLength: -17, tickWidth: 1, tickColor: ink, z: 1 },
            ticks: { autoSkip: false, maxRotation: 0, padding: 43, color: ink, font: { size: 32, family: fam }, callback: (v: any) => String(v) },
          },
          x2: { ...edgeAxis("top", [], -0.1, 0.1, 0, 0, 0, false), border: { display: true, color: "#666", width: 1.5, z: 2 }, grid: { display: false } },
          y: { type: "category", display: false },
        },
      } as any,
    });
    return () => {
      map.destroy();
      upper.destroy();
      lower.destroy();
      cbar.destroy();
    };
  }, []);
  const st: React.CSSProperties = { position: "absolute", left: 0, top: 0 };
  return (
    <div style={{ position: "absolute", left: 0, top: 0, width: 1176, height: 1336, overflow: "hidden", background: "#fff" }}>
      <canvas ref={a} width={1176} height={1336} style={st} />
      <canvas ref={b} width={1176} height={1336} style={st} />
      <canvas ref={c} width={1176} height={1336} style={st} />
      <canvas ref={d} width={1176} height={1336} style={st} />
    </div>
  );
}
